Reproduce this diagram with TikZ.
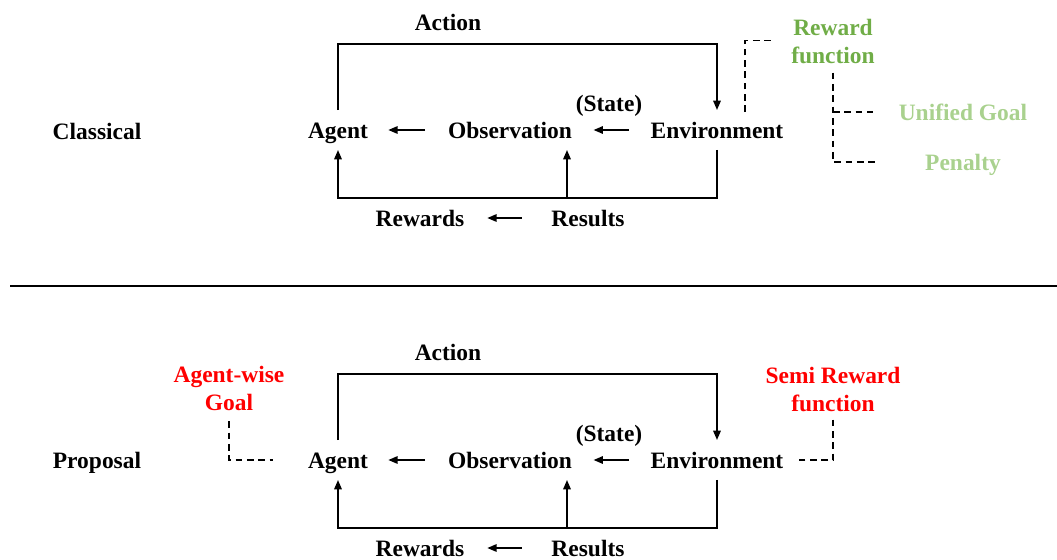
\documentclass[tikz,border=0pt]{standalone}
\usepackage{fontspec}
\setmainfont{Liberation Serif}
\usetikzlibrary{arrows.meta}
\definecolor{rfgreen}{HTML}{70AD47}
\definecolor{lightgreen}{HTML}{A9D18E}
\definecolor{hotred}{HTML}{FF0000}
\begin{document}
\begin{tikzpicture}[x=0.75pt,y=-0.75pt,
  every node/.style={font=\fontsize{17.6}{21}\selectfont\bfseries},
  term/.style={inner xsep=0pt, inner ysep=7pt, text height=14pt, text depth=1.5pt},
  tag/.style={inner sep=0pt, align=center},
  flow/.style={line width=1.4pt, -{Triangle[length=7pt,width=5.5pt]}},
  link/.style={line width=1.2pt, dash pattern=on 5pt off 3.5pt}]
\useasboundingbox (0,0) rectangle (1057,560);

% ---------- classical loop ----------
\node[term] (cls) at (97,131) {Classical};
\node[term] (act1) at (448,22) {Action};
\node[term] (agent1) at (338,130) {Agent};
\node[term] (obs1) at (510,130) {Observation};
\node[term] (env1) at (717,130) {Environment};
\node[term] (st1) at (609,103) {(State)};
\node[term] (rew1) at (420,218) {Rewards};
\node[term] (res1) at (588,218) {Results};
\coordinate (mid1) at (567,198);

\draw[flow] (agent1.north) -- ++(0,-66) -| (env1.north);
\draw[flow] (env1.south) -- ++(0,48) -| (agent1.south);
\draw[flow] (mid1) -- (mid1 |- obs1.south);
\draw[flow, shorten <=16pt, shorten >=16pt] (env1.west) -- (obs1.east);
\draw[flow, shorten <=17pt, shorten >=15pt] (obs1.west) -- (agent1.east);
\draw[flow, shorten <=22pt, shorten >=17pt] (res1.west) -- (rew1.east);

\node[tag, text=rfgreen] (rf1) at (833,42) {Reward\\function};
\node[term, text=lightgreen] (ug1) at (963,112) {Unified Goal};
\node[term, text=lightgreen] (pen1) at (963,162) {Penalty};
\draw[link] ([xshift=21pt,yshift=-1.5pt]env1.north) |- ([xshift=-13.5pt,yshift=1pt]rf1.west);
\draw[link, shorten <=6pt] (rf1.south) |- ([xshift=-35pt]pen1.west);
\draw[link] (rf1.south |- ug1.west) -- ([xshift=-19.5pt]ug1.west);

% ---------- separator ----------
\coordinate (sepL) at (10,286);
\coordinate (sepR) at (1057,286);
\draw[line width=1.8pt] (sepL) -- (sepR);

% ---------- proposed loop ----------
\node[term] (prp) at (97,460) {Proposal};
\node[term] (act2) at (448,352) {Action};
\node[term] (agent2) at (338,460) {Agent};
\node[term] (obs2) at (510,460) {Observation};
\node[term] (env2) at (717,460) {Environment};
\node[term] (st2) at (609,433) {(State)};
\node[term] (rew2) at (420,548) {Rewards};
\node[term] (res2) at (588,548) {Results};
\coordinate (mid2) at (567,528);

\draw[flow] (agent2.north) -- ++(0,-66) -| (env2.north);
\draw[flow] (env2.south) -- ++(0,48) -| (agent2.south);
\draw[flow] (mid2) -- (mid2 |- obs2.south);
\draw[flow, shorten <=16pt, shorten >=16pt] (env2.west) -- (obs2.east);
\draw[flow, shorten <=17pt, shorten >=15pt] (obs2.west) -- (agent2.east);
\draw[flow, shorten <=22pt, shorten >=17pt] (res2.west) -- (rew2.east);

\node[tag, text=hotred] (awg) at (229,388) {Agent-wise\\Goal};
\node[tag, text=hotred] (srf) at (833,389) {Semi Reward\\function};
\draw[link, shorten <=8pt] (awg.south) |- ([xshift=-26pt]agent2.west);
\draw[link, shorten <=6pt] (srf.south) |- ([xshift=10pt]env2.east);
\end{tikzpicture}
\end{document}
